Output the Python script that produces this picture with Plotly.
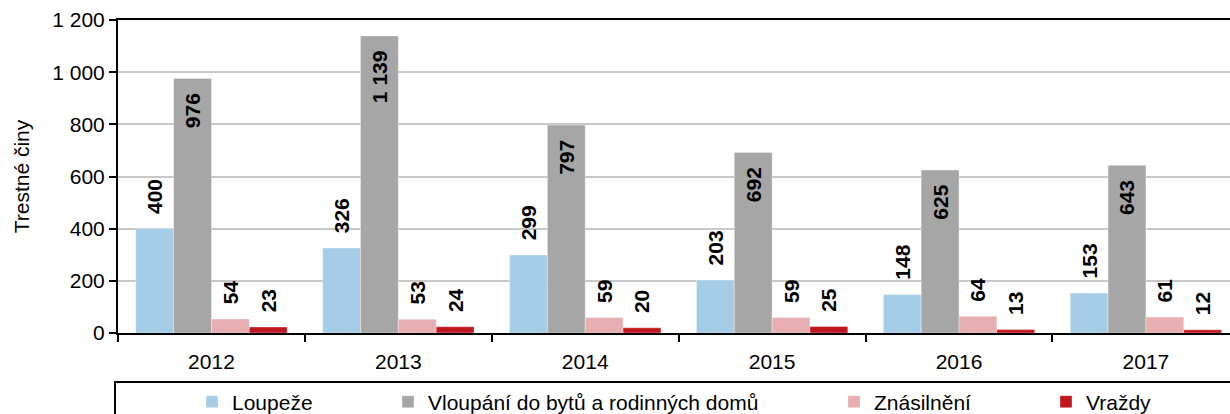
import plotly.graph_objects as go

years = ["2012", "2013", "2014", "2015", "2016", "2017"]
loupeze = [400, 326, 299, 203, 148, 153]
vloupani = [976, 1139, 797, 692, 625, 643]
znasilneni = [54, 53, 59, 59, 64, 61]
vrazdy = [23, 24, 20, 25, 13, 12]

series_names = ["Loupeže", "Vloupání do bytů a rodinných domů", "Znásilnění", "Vraždy"]
series_values = [loupeze, vloupani, znasilneni, vrazdy]
series_colors = ["#A6CDE7", "#A6A6A6", "#E7AFB2", "#C0161F"]
y_ticks = [0, 200, 400, 600, 800, 1000, 1200]

FONT = "Liberation Sans, Arial, sans-serif"
W, H = 1230, 414
L, T, B = 118, 20, 81
plot_w = W - L
plot_h = H - T - B

label_font = dict(family=FONT, size=21, color="black", weight="bold")

fig = go.Figure()
for i, (name, vals, col) in enumerate(zip(series_names, series_values, series_colors)):
    inside = i == 1
    fig.add_trace(go.Bar(
        x=years,
        y=vals,
        name=name,
        marker=dict(color=col, line=dict(color="rgba(255,255,255,0.35)", width=1)),
        texttemplate=("%{y:,}\u00a0\u00a0" if inside else "\u00a0\u00a0%{y:,}"),
        textposition="inside" if inside else "outside",
        insidetextanchor="end",
        textangle=-90,
        constraintext="none",
        cliponaxis=False,
        textfont=label_font,
        insidetextfont=label_font,
        outsidetextfont=label_font,
        legend="legend" if i == 0 else f"legend{i + 1}",
        showlegend=True,
    ))

# one-item legends placed along a single framed strip (pixel x of each entry)
legend_px = [192, 388, 834, 1046]
legends = {}
for i, px in enumerate(legend_px):
    key = "legend" if i == 0 else f"legend{i + 1}"
    legends[key] = dict(
        xref="container", yref="container",
        x=px / W, xanchor="left",
        y=1 - 402 / H, yanchor="middle",
        orientation="h",
        bgcolor="rgba(0,0,0,0)",
        borderwidth=0,
        font=dict(family=FONT, size=21, color="black"),
        itemclick=False, itemdoubleclick=False,
    )

fig.update_layout(
    width=W, height=H,
    margin=dict(l=L, r=0, t=T, b=B, pad=0, autoexpand=False),
    paper_bgcolor="white",
    plot_bgcolor="white",
    separators=", ",
    barmode="group",
    bargap=0.19,
    bargroupgap=0,
    font=dict(family=FONT, size=21, color="black"),
    showlegend=True,
    **legends,
    xaxis=dict(
        type="category",
        range=[-0.5, 5.45],
        showline=True, linecolor="black", linewidth=2,
        mirror=True,
        ticks="outside", tickson="boundaries", ticklen=7, tickwidth=1.5, tickcolor="black",
        tickfont=dict(family=FONT, size=21, color="black"),
        ticklabelstandoff=9,
        showgrid=False,
        fixedrange=True,
    ),
    yaxis=dict(
        range=[0, 1200],
        tickvals=y_ticks,
        tickformat=",",
        showline=True, linecolor="black", linewidth=2,
        ticks="outside", ticklen=7, tickwidth=1.5, tickcolor="black",
        tickfont=dict(family=FONT, size=21, color="black"),
        showgrid=True, gridcolor="#C8C8C8", gridwidth=1.5,
        zeroline=False,
        title=dict(text="Trestné činy", font=dict(family=FONT, size=21, color="black"), standoff=17),
        automargin=False,
        fixedrange=True,
    ),
    shapes=[
        dict(
            type="rect", xref="paper", yref="paper",
            x0=(115 - L) / plot_w, x1=1.05,
            y0=(T + plot_h - 382) / plot_h, y1=-0.6,
            line=dict(color="black", width=2),
            fillcolor="rgba(0,0,0,0)",
            layer="below",
        )
    ],
)

fig.write_html("out.html")
